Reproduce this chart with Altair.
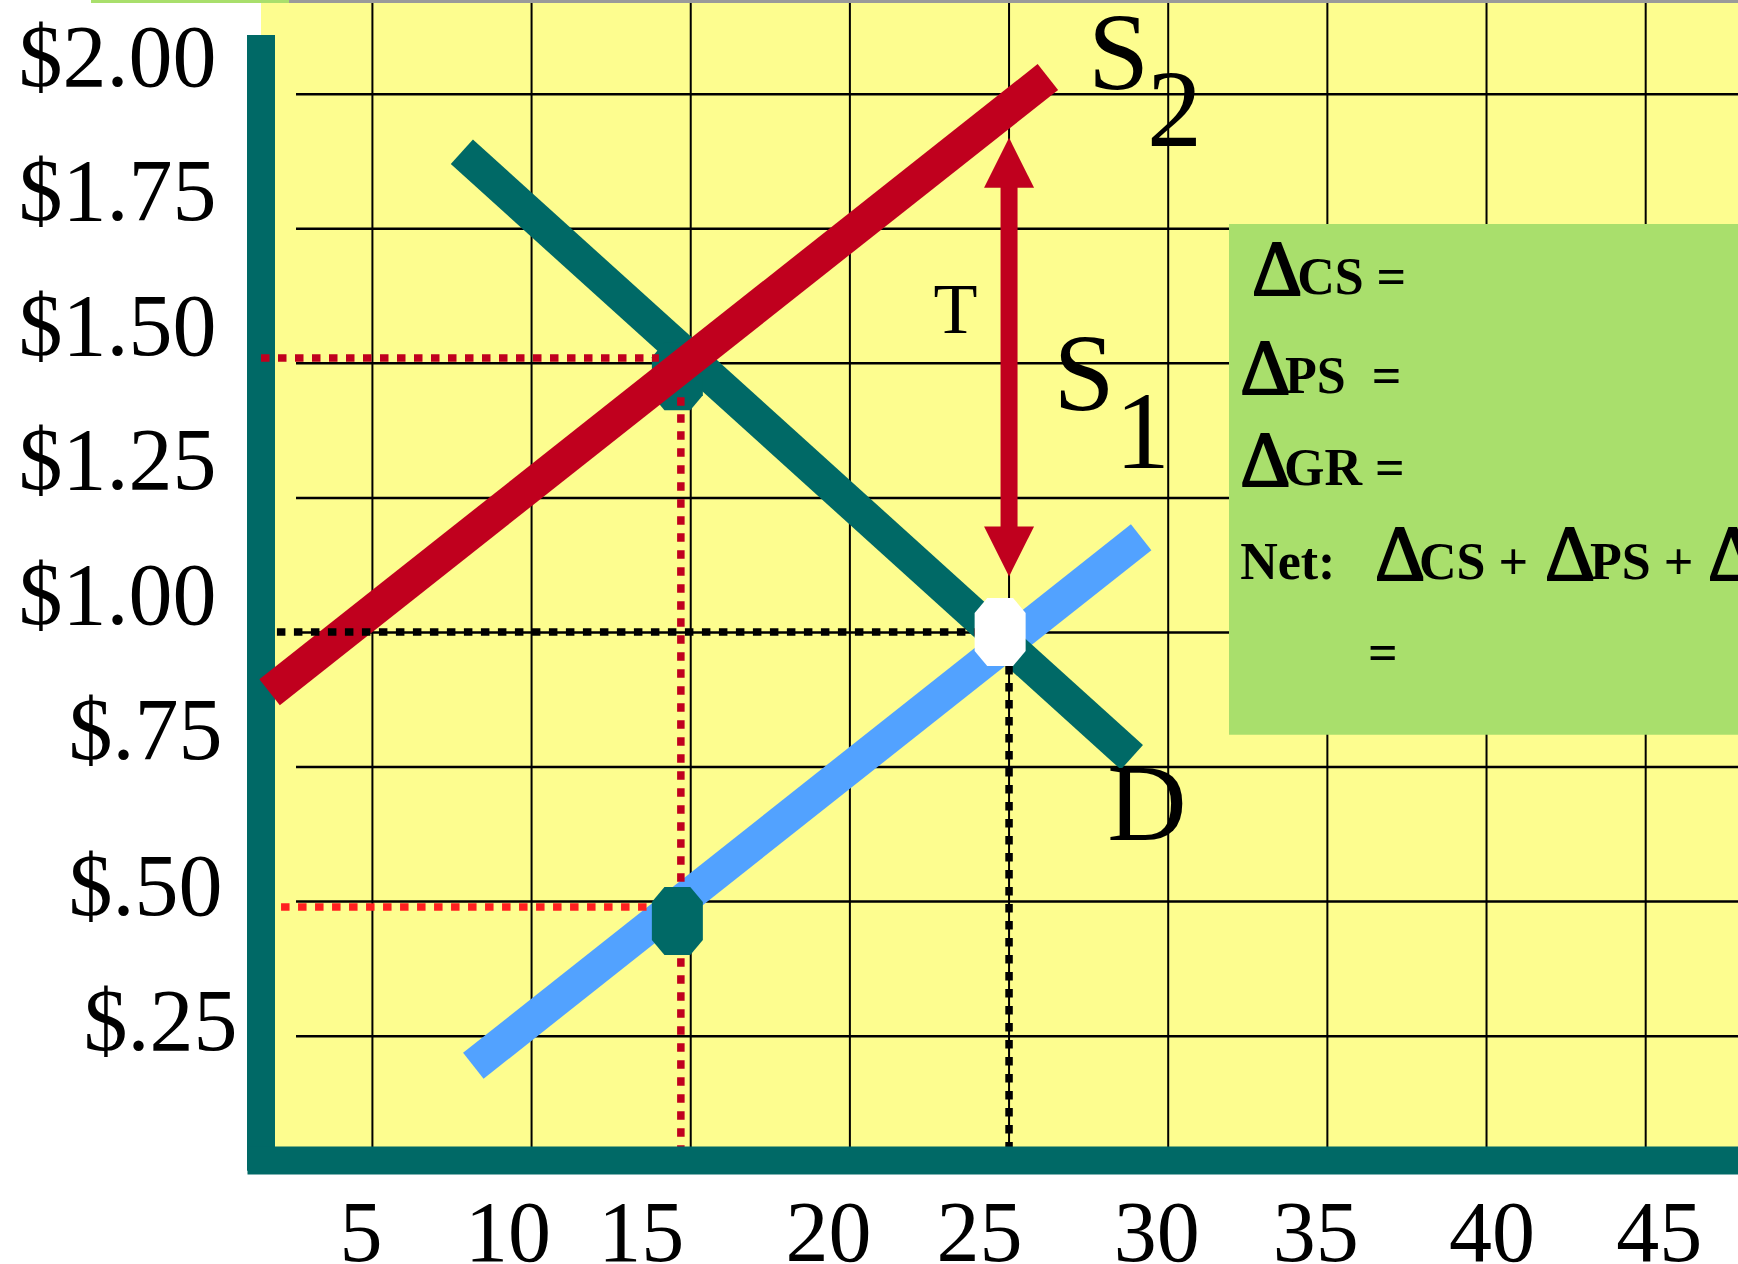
import altair as alt
import pandas as pd

# ---------------- axis ticks ----------------
quantity_ticks = [5, 10, 15, 20, 25, 30, 35, 40, 45]
price_ticks = [0.25, 0.5, 0.75, 1.0, 1.25, 1.5, 1.75, 2.0]
price_labels = ["$.25", "$.50", "$.75", "$1.00", "$1.25", "$1.50", "$1.75", "$2.00"]

# ---------------- curves: (quantity, price) at both ends ----------------
supply1_q = [8.17, 29.15]
supply1_p = [0.195, 1.177]
supply2_q = [1.77, 26.22]
supply2_p = [0.889, 2.032]
demand_q = [7.81, 28.86]
demand_p = [1.893, 0.768]

# ---------------- equilibrium markers ----------------
taxed_q = [14.58, 14.58]          # quantity after the tax
taxed_p = [1.476, 0.464]          # price buyers pay / price sellers keep
before_q = [24.72]
before_p = [1.001]

# ---------------- dotted guide lines ----------------
# price buyers pay after the tax, and the new quantity
buyers_q = [1.5, 14.69]
buyers_q2 = [14.0, 14.69]
buyers_p = [1.51, 1.437]
buyers_p2 = [1.51, 0.0]
# price sellers keep after the tax
sellers_q = [2.13]
sellers_q2 = [13.64]
sellers_p = [0.49]
sellers_p2 = [0.49]
# equilibrium before the tax
before_gq = [2.0, 25.0]
before_gq2 = [24.72, 25.0]
before_gp = [1.001, 1.001]
before_gp2 = [1.001, 0.0]

# ---------------- tax wedge arrow ----------------
tax_q = [25.0]
tax_tip_top = [1.919]
tax_tip_bottom = [1.104]
tax_shaft_top = [1.85]
tax_shaft_bottom = [1.17]

# ---------------- text annotations ----------------
curve_label_text = ["S", "2", "S", "1", "D"]
curve_label_q = [28.44, 30.2, 27.36, 29.19, 29.33]
curve_label_p = [2.010, 1.904, 1.413, 1.305, 0.614]
tax_label_q = [23.32]
tax_label_p = [1.556]

box_q = [31.91, 47.9]
box_p = [1.759, 0.81]
delta_q = [32.63, 32.26, 32.26, 36.50, 41.84, 46.96]
delta_p = [1.629, 1.445, 1.274, 1.100, 1.100, 1.100]
word_text = ["CS =", "PS\u00a0 =", "GR =", "Net:", "CS +", "PS +", "="]
word_q = [34.05, 33.67, 33.64, 32.26, 37.88, 43.25, 36.28]
word_p = [1.629, 1.445, 1.274, 1.100, 1.100, 1.100, 0.931]

# ---------------- styling ----------------
TEAL = "#006966"
RED = "#C0001E"
BRIGHT_RED = "#FF2020"
BLUE = "#52A2FF"
YELLOW = "#FDFD8F"
GREEN = "#A9DF6C"
SERIF = "Liberation Serif"
OCTAGON = "M-0.38,-1L0.38,-1L0.75,-0.56L0.75,0.56L0.38,1L-0.38,1L-0.75,0.56L-0.75,-0.56Z"

W, H = 1477, 1160
Q_MIN, Q_MAX = 1.5, 47.9
P_MIN, P_MAX = 0.02, 2.175

x_scale = alt.Scale(domain=[Q_MIN, Q_MAX], nice=False, zero=False)
y_scale = alt.Scale(domain=[P_MIN, P_MAX], nice=False, zero=False)

label_expr = "".join(
    f"datum.value == {v} ? '{t}' : " for v, t in zip(price_ticks, price_labels)
) + "''"


def per_value(default, shifts):
    """Conditional axis property: a value for some ticks, a default for the rest."""
    return {
        "condition": [{"test": f"datum.value == {v}", "value": s} for v, s in shifts],
        "value": default,
    }


x_axis = alt.Axis(
    values=quantity_ticks, title=None, grid=False, ticks=False, tickSize=0,
    domain=True, domainColor=TEAL, domainWidth=28, domainCap="square",
    labelFont=SERIF, labelFontSize=86, labelColor="black", labelLimit=0,
    labelBaseline="alphabetic", labelPadding=100, labelFlush=False, labelOverlap=False,
    labelOffset=per_value(-12, [(10, -24), (15, -50), (20, -22), (25, -30), (40, 5), (45, 13)]),
    zindex=1,
)
y_axis = alt.Axis(
    values=price_ticks, labelExpr=label_expr, title=None, grid=False, ticks=False,
    tickSize=0, domain=False, labelFont=SERIF, labelFontSize=88, labelColor="black",
    labelLimit=0, labelAlign="right", labelBaseline="middle", labelFlush=False,
    labelOverlap=False,
    labelPadding=per_value(45, [(0.25, 24), (0.5, 39), (0.75, 39)]),
    labelOffset=per_value(-35, [(0.25, -13), (0.5, -13)]),
    zindex=1,
)


def X(field):
    return alt.X(field, type="quantitative", scale=x_scale, axis=x_axis)


def Y(field):
    return alt.Y(field, type="quantitative", scale=y_scale, axis=y_axis)


def segments(qs, q2s, ps, p2s, color, **style):
    df = pd.DataFrame({"q": qs, "q2": q2s, "p": ps, "p2": p2s})
    return alt.Chart(df).mark_rule(color=color, **style).encode(
        x=X("q"), x2="q2", y=Y("p"), y2="p2"
    )


# grid
vgrid = alt.Chart(pd.DataFrame({"q": quantity_ticks})).mark_rule(
    color="black", strokeWidth=2
).encode(x=X("q"))
n = len(price_ticks)
hgrid = segments([2.6] * n, [Q_MAX] * n, price_ticks, price_ticks, "black", strokeWidth=2.5)

# frame: top edge line and vertical price axis bar
top_edge_left = segments([-3.84], [2.38], [P_MAX], [P_MAX], GREEN, strokeWidth=6)
top_edge_right = segments([2.38], [Q_MAX], [P_MAX], [P_MAX], "#9A9A9A", strokeWidth=6)
price_bar = segments([Q_MIN], [Q_MIN], [2.11], [0.0], TEAL, strokeWidth=28)


def curve(qs, ps, color):
    return alt.Chart(pd.DataFrame({"q": qs, "p": ps})).mark_line(
        color=color, strokeWidth=33, strokeCap="butt"
    ).encode(x=X("q"), y=Y("p"))


s1 = curve(supply1_q, supply1_p, BLUE)
dd = curve(demand_q, demand_p, TEAL)
s2 = curve(supply2_q, supply2_p, RED)


def marker(qs, ps, color):
    return alt.Chart(pd.DataFrame({"q": qs, "p": ps})).mark_point(
        shape=OCTAGON, size=4624, filled=True, color=color, opacity=1
    ).encode(x=X("q"), y=Y("p"))


marker_buyers = marker(taxed_q[:1], taxed_p[:1], TEAL)
marker_sellers = marker(taxed_q[1:], taxed_p[1:], TEAL)
marker_before = marker(before_q, before_p, "white")

dots = dict(strokeWidth=7.5, strokeDash=[8.5, 8.5])
guide_buyers = segments(buyers_q, buyers_q2, buyers_p, buyers_p2, RED, **dots)
guide_sellers = segments(sellers_q, sellers_q2, sellers_p, sellers_p2, BRIGHT_RED, **dots)
guide_before = segments(before_gq, before_gq2, before_gp, before_gp2, "black", **dots)

# tax arrow between the two supply curves
arrow_df = pd.DataFrame({"q": tax_q, "top": tax_tip_top, "bottom": tax_tip_bottom})
arrow_shaft = segments(tax_q, tax_q, tax_shaft_top, tax_shaft_bottom, RED, strokeWidth=17)
arrow_up = alt.Chart(arrow_df).mark_point(
    shape="M0,-1L1,1L-1,1Z", size=2500, filled=True, color=RED, opacity=1, yOffset=25
).encode(x=X("q"), y=Y("top"))
arrow_down = alt.Chart(arrow_df).mark_point(
    shape="M0,1L1,-1L-1,-1Z", size=2500, filled=True, color=RED, opacity=1, yOffset=-25
).encode(x=X("q"), y=Y("bottom"))


def texts(labels, qs, ps, size, align="center", weight="normal", **extra):
    df = pd.DataFrame({"t": labels, "q": qs, "p": ps})
    return alt.Chart(df).mark_text(
        font=SERIF, fontSize=size, fontWeight=weight, align=align,
        baseline="alphabetic", color="black", **extra,
    ).encode(x=X("q"), y=Y("p"), text="t:N")


curve_labels = texts(curve_label_text, curve_label_q, curve_label_p, 110)
tax_label = texts(["T"], tax_label_q, tax_label_p, 72)

# welfare summary panel
panel = alt.Chart(
    pd.DataFrame({"q": [box_q[0]], "q2": [box_q[1]], "p": [box_p[0]], "p2": [box_p[1]]})
).mark_rect(color=GREEN, opacity=1).encode(x=X("q"), x2="q2", y=Y("p"), y2="p2")
panel_delta = texts(
    ["\u0394"] * len(delta_q), delta_q, delta_p, 78, align="left",
    stroke="black", strokeWidth=2,
)
panel_words = texts(word_text, word_q, word_p, 52, align="left", weight="bold")

chart = alt.layer(
    vgrid, hgrid, top_edge_left, top_edge_right, price_bar,
    s1, dd, marker_buyers, s2,
    guide_buyers, guide_sellers, guide_before,
    marker_sellers, marker_before,
    arrow_shaft, arrow_up, arrow_down,
    curve_labels, tax_label,
    panel, panel_delta, panel_words,
).properties(
    width=W, height=H,
    padding={"left": 261, "top": 0, "right": 0, "bottom": 104},
    autosize=alt.AutoSizeParams(type="none"),
    background="white",
).configure_view(fill=YELLOW, strokeWidth=0)

chart.save("out.html", embed_options={"renderer": "svg", "actions": False})
